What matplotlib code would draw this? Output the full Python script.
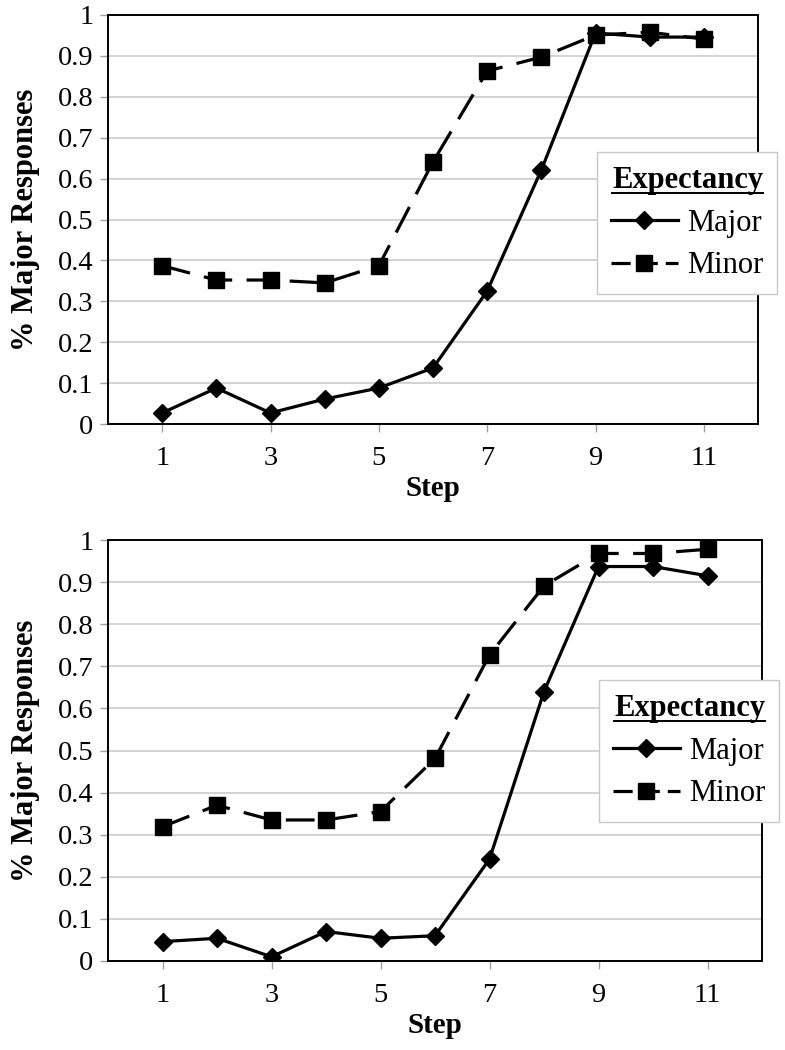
import matplotlib
matplotlib.use("Agg")
import matplotlib.pyplot as plt
from matplotlib.lines import Line2D

steps = [1, 2, 3, 4, 5, 6, 7, 8, 9, 10, 11]
top_major = [0.027, 0.088, 0.027, 0.061, 0.088, 0.137, 0.325, 0.621, 0.956, 0.946, 0.946]
top_minor = [0.387, 0.352, 0.352, 0.345, 0.387, 0.641, 0.863, 0.897, 0.951, 0.958, 0.941]
bot_major = [0.046, 0.054, 0.010, 0.070, 0.054, 0.060, 0.242, 0.640, 0.937, 0.937, 0.915]
bot_minor = [0.319, 0.370, 0.335, 0.335, 0.355, 0.481, 0.727, 0.891, 0.968, 0.968, 0.978]
xticks = [1, 3, 5, 7, 9, 11]
yticks = [0, 0.1, 0.2, 0.3, 0.4, 0.5, 0.6, 0.7, 0.8, 0.9, 1.0]
ytick_labels = ["0", "0.1", "0.2", "0.3", "0.4", "0.5", "0.6", "0.7", "0.8", "0.9", "1"]
series_names = ["Major", "Minor"]
legend_title = "Expectancy"

plt.rcParams['font.family'] = ['Liberation Serif', 'DejaVu Serif']

W, H = 785, 1050
fig = plt.figure(figsize=(W / 100, H / 100), dpi=100)

def px_axes(l, t, r, b):
    return fig.add_axes([l / W, 1 - b / H, (r - l) / W, (b - t) / H])

axes_px = [(108, 15, 758, 424), (108, 540, 762, 961)]
data = [(top_major, top_minor), (bot_major, bot_minor)]
legend_px = [(597, 152), (599, 680)]

for (l, t, r, b), (maj, mino), (lx, ly) in zip(axes_px, data, legend_px):
    ax = px_axes(l, t, r, b)
    ax.set_xlim(0, 12)
    ax.set_ylim(0, 1)
    ax.set_yticks(yticks)
    ax.set_yticklabels(ytick_labels)
    ax.set_xticks(xticks)
    ax.set_xticklabels([str(x) for x in xticks])
    ax.grid(axis='y', color='#c8c8c8', linewidth=1.1)
    ax.set_axisbelow(True)
    for s in ax.spines.values():
        s.set_linewidth(1.4)
        s.set_color('black')
    ax.tick_params(axis='both', direction='out', length=5.5, width=1.0,
                   color='#a0a0a0', labelsize=20.5)
    ax.tick_params(axis='y', pad=5)
    ax.tick_params(axis='x', pad=10)
    l1, = ax.plot(steps, maj, color='black', linewidth=2.3, marker='D',
                  markersize=9.5, label=series_names[0], zorder=3)
    l2, = ax.plot(steps, mino, color='black', linewidth=2.3, marker='s',
                  markersize=12, label=series_names[1], zorder=3)
    l2.set_dashes([9, 4.5])
    ax.set_xlabel("Step", fontsize=21, fontweight='bold', labelpad=3)
    fig.text(26 / W, 1 - ((t + b) / 2) / H, "% Major Responses", rotation=90,
             ha='center', va='center', fontsize=22, fontweight='bold')
    h2 = Line2D([], [], color='black', linewidth=2.3, marker='s', markersize=12)
    h2.set_dashes([6, 2.5])
    leg = ax.legend(handles=[l1, h2], labels=series_names, loc='upper left',
                    bbox_to_anchor=(lx / W, 1 - ly / H),
                    bbox_transform=fig.transFigure,
                    fontsize=22, title=legend_title,
                    title_fontproperties={'weight': 'bold', 'size': 22},
                    alignment='right', handlelength=2.2, handletextpad=0.3,
                    borderpad=0.45, labelspacing=0.45, fancybox=False,
                    framealpha=1, edgecolor='#c8c8c8', borderaxespad=0)
    leg.get_frame().set_linewidth(1.0)
    ax._my_leg = leg

fig.canvas.draw()
renderer = fig.canvas.get_renderer()
for ax in fig.axes:
    leg = ax._my_leg
    tt = leg.get_title()
    bb = tt.get_window_extent(renderer)
    y = bb.y0 + 2
    fig.add_artist(Line2D([bb.x0 / W, bb.x1 / W], [y / H, y / H],
                          transform=fig.transFigure, color='black', linewidth=1.4))

fig.savefig("out.png", dpi=100)
